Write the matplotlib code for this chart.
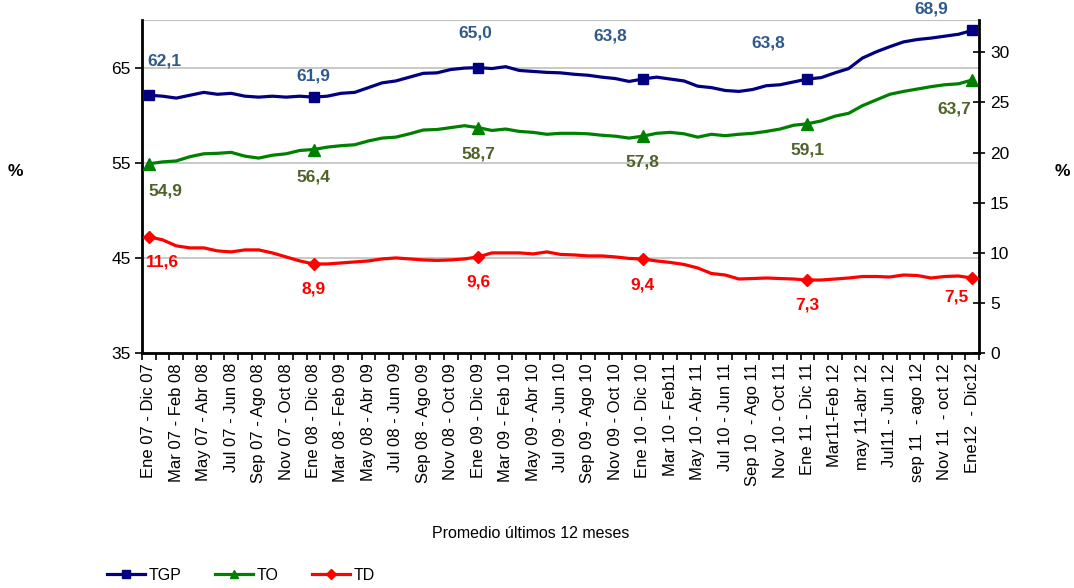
import matplotlib
matplotlib.use("Agg")
import matplotlib.pyplot as plt
from matplotlib.lines import Line2D

plt.rcParams['font.family'] = ['Liberation Sans', 'DejaVu Sans']

# ---------------- data ----------------
tick_labels = [
    "Ene 07 - Dic 07", "Mar 07 - Feb 08", "May 07 - Abr 08", "Jul 07 - Jun 08",
    "Sep 07 - Ago 08", "Nov 07 - Oct 08", "Ene 08 - Dic 08", "Mar 08 - Feb 09",
    "May 08 - Abr 09", "Jul 08 - Jun 09", "Sep 08 - Ago 09", "Nov 08 - Oct 09",
    "Ene 09 - Dic 09", "Mar 09 - Feb 10", "May 09 - Abr 10", "Jul 09 - Jun 10",
    "Sep 09 - Ago 10", "Nov 09 - Oct 10", "Ene 10 - Dic 10", "Mar 10 - Feb11",
    "May 10 - Abr 11", "Jul 10 - Jun 11", "Sep 10  - Ago 11", "Nov 10 - Oct 11",
    "Ene 11 - Dic 11", "Mar11-Feb 12", "may 11-abr 12", "Jul11 - Jun 12",
    "sep 11  - ago 12", "Nov 11  - oct 12", "Ene12  - Dic12",
]

tgp = [62.1, 62.0, 61.8, 62.1, 62.4, 62.2, 62.3, 62.0, 61.9, 62.0,
       61.9, 62.0, 61.9, 62.0, 62.3, 62.4, 62.9, 63.4, 63.6, 64.0,
       64.4, 64.45, 64.8, 64.95, 65.0, 64.9, 65.1, 64.7, 64.6, 64.5,
       64.45, 64.3, 64.2, 64.0, 63.85, 63.55, 63.8, 64.0, 63.8, 63.6,
       63.05, 62.9, 62.6, 62.5, 62.7, 63.1, 63.2, 63.5, 63.8, 63.95,
       64.45, 64.9, 66.0, 66.65, 67.2, 67.7, 67.95, 68.1, 68.3, 68.5,
       68.9]

to = [54.9, 55.1, 55.2, 55.65, 55.95, 56.0, 56.1, 55.7, 55.5, 55.8,
      55.95, 56.3, 56.4, 56.65, 56.8, 56.9, 57.3, 57.6, 57.7, 58.05,
      58.45, 58.5, 58.7, 58.9, 58.7, 58.4, 58.55, 58.3, 58.2, 58.0,
      58.1, 58.1, 58.05, 57.9, 57.8, 57.6, 57.8, 58.1, 58.2, 58.05,
      57.7, 58.0, 57.85, 58.0, 58.1, 58.3, 58.55, 58.95, 59.1, 59.4,
      59.9, 60.2, 61.0, 61.6, 62.2, 62.5, 62.75, 63.0, 63.2, 63.3,
      63.7]

td = [11.6, 11.3, 10.7, 10.5, 10.5, 10.2, 10.1, 10.3, 10.3, 10.0,
      9.6, 9.2, 8.9, 8.9, 9.0, 9.1, 9.2, 9.4, 9.5, 9.4,
      9.3, 9.25, 9.3, 9.4, 9.6, 10.0, 10.0, 10.0, 9.9, 10.1,
      9.85, 9.8, 9.7, 9.7, 9.6, 9.45, 9.4, 9.2, 9.05, 8.85,
      8.5, 7.95, 7.8, 7.4, 7.45, 7.5, 7.45, 7.4, 7.3, 7.3,
      7.4, 7.5, 7.65, 7.65, 7.6, 7.8, 7.75, 7.5, 7.65, 7.7,
      7.5]

marker_idx = [0, 12, 24, 36, 48, 60]
tgp_labels = [62.1, 61.9, 65.0, 63.8, 63.8, 68.9]
to_labels = [54.9, 56.4, 58.7, 57.8, 59.1, 63.7]
td_labels = [11.6, 8.9, 9.6, 9.4, 7.3, 7.5]

# label offsets in pixels (dx right, dy down)
tgp_off = [(16, -34), (0, -21), (-3, -35), (-33, -43), (-39, -36), (-41, -21)]
to_off = [(16, 27), (0, 27), (0, 26), (0, 26), (0, 26), (-18, 29)]
td_off = [(14, 25), (0, 25), (0, 25), (0, 26), (0, 25), (-16, 19)]

# ---------------- figure ----------------
W, H = 1074, 588
fig = plt.figure(figsize=(W / 100, H / 100), dpi=100)
L, R, T, B = 142, 979, 20, 353.3
ax = fig.add_axes([L / W, 1 - B / H, (R - L) / W, (B - T) / H])
ax2 = ax.twinx()

x = list(range(len(tgp)))
c_tgp, c_to, c_td = "#000080", "#008000", "#FF0000"
lc_tgp, lc_to, lc_td = "#2E5A8C", "#4F6228", "#FF0000"

ax.plot(x, tgp, color=c_tgp, lw=2.3, marker="s", markersize=7,
        markevery=marker_idx, solid_joinstyle="round", zorder=3)
ax.plot(x, to, color=c_to, lw=2.3, marker="^", markersize=8,
        markevery=marker_idx, solid_joinstyle="round", zorder=3)
ax2.plot(x, td, color=c_td, lw=2.3, marker="D", markersize=6.5,
         markevery=marker_idx, solid_joinstyle="round", zorder=3)

def fmt(v):
    return f"{v:.1f}".replace(".", ",")

for k, i in enumerate(marker_idx):
    ax.annotate(fmt(tgp_labels[k]), xy=(i, tgp[i]),
                xytext=(tgp_off[k][0] * 0.72, -tgp_off[k][1] * 0.72),
                textcoords="offset points", ha="center", va="center",
                fontsize=12.5, fontweight="bold", color=lc_tgp)
    ax.annotate(fmt(to_labels[k]), xy=(i, to[i]),
                xytext=(to_off[k][0] * 0.72, -to_off[k][1] * 0.72),
                textcoords="offset points", ha="center", va="center",
                fontsize=12.5, fontweight="bold", color=lc_to)
    ax2.annotate(fmt(td_labels[k]), xy=(i, td[i]),
                 xytext=(td_off[k][0] * 0.72, -td_off[k][1] * 0.72),
                 textcoords="offset points", ha="center", va="center",
                 fontsize=12.5, fontweight="bold", color=lc_td)

# axes limits / ticks
n = len(tgp)
ax.set_xlim(-0.5, n - 0.5)
ax.set_ylim(35, 70)
ax2.set_ylim(0, 33.2)
ax.set_yticks([35, 45, 55, 65])
ax2.set_yticks([0, 5, 10, 15, 20, 25, 30])

label_pos = list(range(0, n, 2))
ax.set_xticks(label_pos)
ax.set_xticklabels(tick_labels, rotation=90, fontsize=12, va="top", ha="center")
ax.tick_params(axis="x", which="major", length=0, pad=7)
ax.set_xticks([i - 0.5 for i in range(n + 1)], minor=True)
ax.tick_params(axis="x", which="minor", length=5, width=1.2, direction="out")

ax.tick_params(axis="y", labelsize=12.5, length=5, width=1.2, direction="out", pad=3)
ax2.tick_params(axis="y", labelsize=12.5, length=8, width=1.2, direction="inout", pad=4)

ax.yaxis.grid(True, color="#C0C0C0", lw=1.2)
ax.set_axisbelow(True)
ax.axhline(70, color="#C0C0C0", lw=1.5, zorder=0)

for s in ["left", "bottom"]:
    ax.spines[s].set_linewidth(2)
    ax.spines[s].set_color("black")
ax.spines["top"].set_visible(False)
ax.spines["right"].set_visible(False)
ax2.spines["top"].set_visible(False)
ax2.spines["left"].set_visible(False)
ax2.spines["bottom"].set_visible(False)
ax2.spines["right"].set_linewidth(2)

fig.text(15 / W, 1 - 172 / H, "%", fontsize=12.5, fontweight="bold", ha="center", va="center")
fig.text(1062 / W, 1 - 172 / H, "%", fontsize=12.5, fontweight="bold", ha="center", va="center")
fig.text(531 / W, 1 - 533 / H, "Promedio últimos 12 meses", fontsize=11.5, ha="center", va="center")

handles = [
    Line2D([], [], color=c_tgp, lw=2.3, marker="s", markersize=6),
    Line2D([], [], color=c_to, lw=2.3, marker="^", markersize=6),
    Line2D([], [], color=c_td, lw=2.3, marker="D", markersize=5),
]
fig.legend(handles, ["TGP", "TO", "TD"], loc="center left",
           bbox_to_anchor=(107 / W, 1 - 575 / H), ncol=3, frameon=False,
           fontsize=11.5, handlelength=2.4, handletextpad=0.2, columnspacing=2.1,
           borderaxespad=0, borderpad=0)

fig.savefig("out.png", dpi=100)
